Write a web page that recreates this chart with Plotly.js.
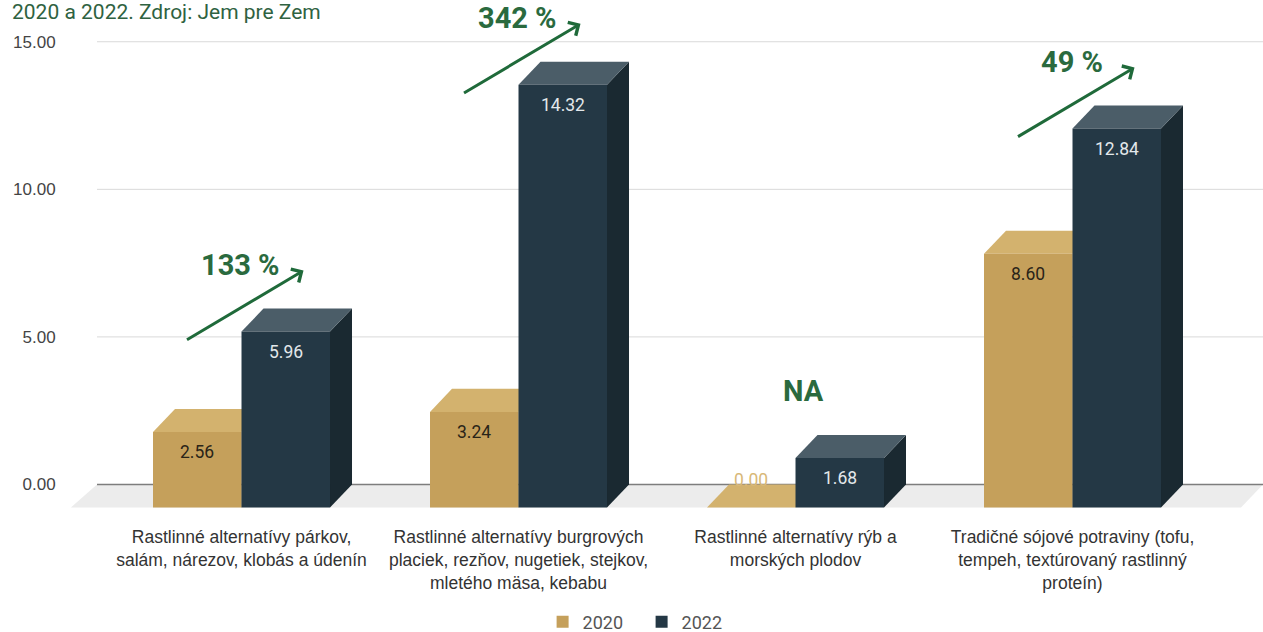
<!DOCTYPE html>
<html>
<head>
<meta charset="utf-8">
<script src="https://cdn.plot.ly/plotly-3.0.1.min.js"></script>
<style>
  html, body { margin: 0; padding: 0; background: #ffffff; }
  #chart { width: 1263px; height: 632px; }
</style>
</head>
<body>
<div id="chart"></div>
<script>
// Categories and values (mil. €)
const categories = [
  'Rastlinné alternatívy párkov,<br>salám, nárezov, klobás a údenín',
  'Rastlinné alternatívy burgrových<br>placiek, rezňov, nugetiek, stejkov,<br>mletého mäsa, kebabu',
  'Rastlinné alternatívy rýb a<br>morských plodov',
  'Tradičné sójové potraviny (tofu,<br>tempeh, textúrovaný rastlinný<br>proteín)'
];
const values2020 = [2.56, 3.24, 0.00, 8.60];
const values2022 = [5.96, 14.32, 1.68, 12.84];
const seriesNames = ['2020', '2022'];
const yTicks = [0, 5, 10, 15];
const subtitle = '2020 a 2022. Zdroj: Jem pre Zem';

// Pseudo-3D geometry (axis units)
const BAR_W = 0.3195;   // width of one front face
const DX = 0.0794;      // depth offset along x
const DY = 0.78;        // depth offset along y
const X_MIN = -0.6264, X_MAX = 3.6877;
const GRID_START = -0.5217;

const colors = {
  tan:  { front: '#c5a05b', top: '#d3b26e', side: '#a6864b', label: '#2a2418' },
  navy: { front: '#243845', top: '#4b5d68', side: '#1a2931', label: '#e3e8eb' }
};
const green = '#2a6a3e';
const idx = categories.map((_, i) => i);

const shapes = [];
// gridlines at the back plane
yTicks.forEach(t => {
  if (t === 0) return;
  shapes.push({ type: 'line', layer: 'below', xref: 'x', yref: 'y',
    x0: GRID_START, x1: X_MAX, y0: t, y1: t, line: { color: '#d9d9d9', width: 1 } });
});
// floor
shapes.push({ type: 'path', layer: 'between', xref: 'x', yref: 'y',
  path: `M${GRID_START - DX - 0.015},${-DY} L${X_MAX - DX},${-DY} L${X_MAX},0 L${GRID_START},0 Z`,
  fillcolor: '#ececec', line: { width: 0 } });
shapes.push({ type: 'line', layer: 'between', xref: 'x', yref: 'y',
  x0: GRID_START, x1: X_MAX, y0: 0, y1: 0, line: { color: '#7d7d7d', width: 1.5 } });

// top and side faces of each box
function boxFaces(xl, v, c) {
  const top = v - DY;
  shapes.push({ type: 'path', layer: 'between', xref: 'x', yref: 'y',
    path: `M${xl + BAR_W},${-DY} L${xl + BAR_W},${top} L${xl + BAR_W + DX},${v} L${xl + BAR_W + DX},0 Z`,
    fillcolor: c.side, line: { width: 0 } });
  shapes.push({ type: 'path', layer: 'between', xref: 'x', yref: 'y',
    path: `M${xl},${top} L${xl + BAR_W},${top} L${xl + BAR_W + DX},${v} L${xl + DX},${v} Z`,
    fillcolor: c.top, line: { width: 0 } });
}
idx.forEach(i => {
  boxFaces(i - BAR_W, values2020[i], colors.tan);
  boxFaces(i, values2022[i], colors.navy);
});

// front faces
const traces = [
  { type: 'bar', name: seriesNames[0], x: idx.map(i => i - BAR_W / 2), y: values2020,
    base: -DY, width: BAR_W, marker: { color: colors.tan.front, line: { width: 0 } },
    hoverinfo: 'skip' },
  { type: 'bar', name: seriesNames[1], x: idx.map(i => i + BAR_W / 2), y: values2022,
    base: -DY, width: BAR_W, marker: { color: colors.navy.front, line: { width: 0 } },
    hoverinfo: 'skip' }
];

const annotations = [];
// value labels
function valueLabel(xc, v, c) {
  const inside = v > 1;
  annotations.push({ xref: 'x', yref: 'y', x: xc, y: inside ? v - DY : v,
    yshift: inside ? -20 : 4, showarrow: false, text: v.toFixed(2),
    font: { family: 'Roboto', size: 17.5, color: inside ? c.label : '#d8b877' } });
}
idx.forEach(i => {
  valueLabel(i - BAR_W / 2, values2020[i], colors.tan);
  valueLabel(i + BAR_W / 2, values2022[i], colors.navy);
});
// growth labels and arrows
idx.forEach(i => {
  const a = values2020[i], b = values2022[i];
  const hasGrowth = a > 0;
  const txt = hasGrowth ? Math.round((b / a - 1) * 100) + ' %' : 'NA';
  annotations.push({ xref: 'x', yref: 'y', x: i, y: b, yshift: 44, xshift: hasGrowth ? -1 : 8,
    showarrow: false, text: '<b>' + txt + '</b>',
    font: { family: 'Roboto', size: 29, color: green } });
  if (hasGrowth) {
    annotations.push({ xref: 'x', yref: 'y', x: i, y: b, xshift: 62, yshift: 38,
      text: '', showarrow: true, ax: -118, ay: 70, arrowhead: 4, arrowsize: 1,
      arrowwidth: 3, arrowcolor: '#1f6a3a', standoff: 0 });
  }
});
// subtitle line
annotations.push({ xref: 'paper', yref: 'paper', x: -0.0485, y: 1.0308,
  xanchor: 'left', yanchor: 'middle', showarrow: false, text: subtitle,
  font: { family: 'Roboto', size: 21, color: '#2f6241' } });

const layout = {
  width: 1263, height: 632,
  margin: { l: 68, r: 0, t: 27, b: 118, autoexpand: false },
  paper_bgcolor: '#ffffff', plot_bgcolor: '#ffffff',
  barmode: 'overlay',
  showlegend: true,
  legend: { orientation: 'h', x: 0.508, xanchor: 'center', xref: 'container',
    y: 0.0158, yanchor: 'middle', yref: 'container', entrywidth: 54,
    font: { family: 'Roboto', size: 18, color: '#555555' } },
  xaxis: { range: [X_MIN, X_MAX], tickvals: idx, ticktext: categories,
    ticks: 'outside', ticklen: 7, tickcolor: 'rgba(0,0,0,0)', automargin: false,
    showgrid: false, zeroline: false, showline: false, fixedrange: true,
    tickfont: { family: 'Liberation Sans', size: 17.5, color: '#333333' } },
  yaxis: { range: [-1, 15.5], tickvals: yTicks, ticktext: yTicks.map(t => t.toFixed(2)),
    ticks: 'outside', ticklen: 8, tickcolor: 'rgba(0,0,0,0)', automargin: false,
    showgrid: false, zeroline: false, showline: false, fixedrange: true,
    tickfont: { family: 'Liberation Sans', size: 17, color: '#444444' } },
  shapes: shapes,
  annotations: annotations
};

Plotly.newPlot('chart', traces, layout, { displayModeBar: false, staticPlot: true });
</script>
</body>
</html>
